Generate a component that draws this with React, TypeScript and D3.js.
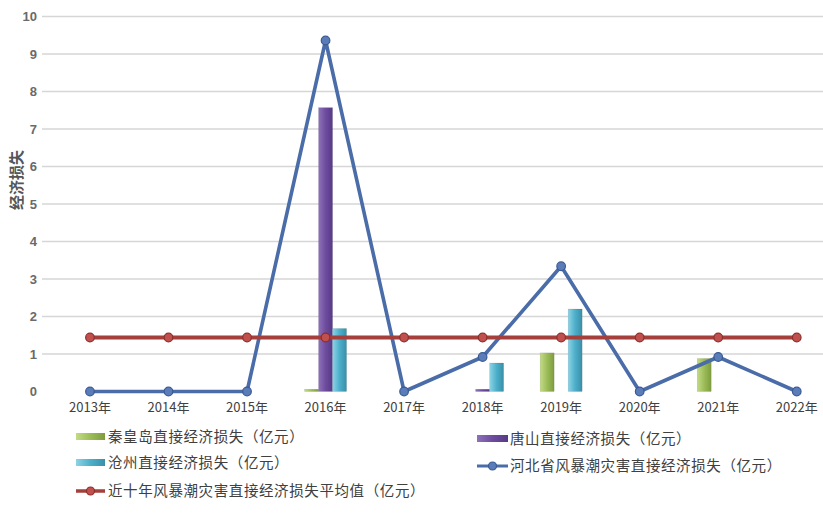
import React from "react";
import * as d3 from "d3";

const years = ["2013年", "2014年", "2015年", "2016年", "2017年", "2018年", "2019年", "2020年", "2021年", "2022年"];
const qinhuangdao = [0, 0, 0, 0.06, 0, 0, 1.03, 0, 0.88, 0];
const tangshan = [0, 0, 0, 7.57, 0, 0.06, 0, 0, 0, 0];
const cangzhou = [0, 0, 0, 1.68, 0, 0.76, 2.2, 0, 0, 0];
const hebei = [0, 0, 0, 9.36, 0, 0.92, 3.34, 0, 0.92, 0];
const average = [1.44, 1.44, 1.44, 1.44, 1.44, 1.44, 1.44, 1.44, 1.44, 1.44];
const yTicks = [0, 1, 2, 3, 4, 5, 6, 7, 8, 9, 10];

const barSeries = [
  { name: "秦皇岛直接经济损失（亿元）", values: qinhuangdao, grad: "gGreen" },
  { name: "唐山直接经济损失（亿元）", values: tangshan, grad: "gPurple" },
  { name: "沧州直接经济损失（亿元）", values: cangzhou, grad: "gCyan" },
];
const lineNames = ["河北省风暴潮灾害直接经济损失（亿元）", "近十年风暴潮灾害直接经济损失平均值（亿元）"];

const BLUE = "#4a6ca8";
const RED = "#a53f3b";
const CJK = "'Noto Sans CJK SC', 'Noto Sans', sans-serif";
const NUM = "'Liberation Sans', Arial, sans-serif";

export default function App() {
  const x = d3.scaleBand<string>().domain(years).range([50.7, 836]);
  const y = d3.scaleLinear().domain([0, 10]).range([391.5, 16.5]);
  const bw = 14;
  const cx = (i: number) => (x(years[i]) as number) + x.bandwidth() / 2;
  const line = d3.line<number>().x((_, i) => cx(i)).y((d) => y(d));

  return (
    <svg width={823} height={513} style={{ position: "absolute", left: 0, top: 0, background: "#fff" }}>
      <defs>
        <linearGradient id="gGreen" x1="0" x2="1" y1="0" y2="0">
          <stop offset="0" stopColor="#c3db86" />
          <stop offset="0.5" stopColor="#9cbc58" />
          <stop offset="1" stopColor="#7e9c3e" />
        </linearGradient>
        <linearGradient id="gPurple" x1="0" x2="1" y1="0" y2="0">
          <stop offset="0" stopColor="#8e72b8" />
          <stop offset="0.5" stopColor="#6d4c9e" />
          <stop offset="1" stopColor="#573a86" />
        </linearGradient>
        <linearGradient id="gCyan" x1="0" x2="1" y1="0" y2="0">
          <stop offset="0" stopColor="#8dd3e6" />
          <stop offset="0.5" stopColor="#4cafca" />
          <stop offset="1" stopColor="#3a8fa8" />
        </linearGradient>
      </defs>

      {yTicks.map((t) => (
        <g key={t}>
          {t > 0 && <line x1={42} x2={823} y1={y(t)} y2={y(t)} stroke="#d6d6d6" strokeWidth={1.5} />}
          <text x={37} y={y(t)} dy="0.35em" textAnchor="end" fontFamily={NUM} fontSize={13} fontWeight="bold" fill="#6a6a6a">{t}</text>
        </g>
      ))}

      <text transform={`translate(22,180) rotate(-90)`} textAnchor="middle" fontFamily={CJK} fontSize={15} fontWeight="bold" fill="#555">经济损失</text>

      {years.map((yr, i) => (
        <text key={yr} x={cx(i)} y={412} textAnchor="middle" fontFamily={CJK} fontSize={13} fill="#404040">{yr}</text>
      ))}

      {barSeries.map((s, si) =>
        s.values.map((v, i) =>
          v > 0 ? (
            <rect key={`${si}-${i}`} x={cx(i) - 1.5 * bw + si * bw} y={y(v)} width={bw} height={y(0) - y(v)} fill={`url(#${s.grad})`} stroke="rgba(0,0,0,0.15)" strokeWidth={0.5} />
          ) : null
        )
      )}

      <path d={line(hebei) || ""} fill="none" stroke={BLUE} strokeWidth={3.6} strokeLinejoin="round" />
      {hebei.map((v, i) => (
        <circle key={`h${i}`} cx={cx(i)} cy={y(v)} r={4.3} fill="#5a7cb8" stroke="#3a5a94" strokeWidth={1.2} />
      ))}

      <path d={line(average) || ""} fill="none" stroke={RED} strokeWidth={4} />
      {average.map((v, i) => (
        <circle key={`a${i}`} cx={cx(i)} cy={y(v)} r={4.3} fill="#c0504d" stroke="#8e2f2c" strokeWidth={1.2} />
      ))}

      {/* legend */}
      <g fontFamily={CJK} fontSize={14.5} fill="#404040">
        <rect x={76} y={433} width={29} height={7} fill="url(#gGreen)" />
        <text x={108} y={437} dy="0.35em" letterSpacing={0.6}>{barSeries[0].name}</text>
        <rect x={477} y={435} width={31} height={7} fill="url(#gPurple)" />
        <text x={510} y={439} dy="0.35em" letterSpacing={0.6}>{barSeries[1].name}</text>
        <rect x={76} y={459} width={29} height={7} fill="url(#gCyan)" />
        <text x={108} y={463} dy="0.35em" letterSpacing={0.6}>{barSeries[2].name}</text>
        <line x1={477} x2={508} y1={466} y2={466} stroke={BLUE} strokeWidth={3} />
        <circle cx={492.5} cy={466} r={4} fill="#5a7cb8" stroke="#3a5a94" strokeWidth={1.2} />
        <text x={510} y={466} dy="0.35em" letterSpacing={0.6}>{lineNames[0]}</text>
        <line x1={76} x2={105} y1={491} y2={491} stroke={RED} strokeWidth={3.5} />
        <circle cx={90.5} cy={491} r={4} fill="#c0504d" stroke="#8e2f2c" strokeWidth={1.2} />
        <text x={108} y={491} dy="0.35em" letterSpacing={0.6}>{lineNames[1]}</text>
      </g>
    </svg>
  );
}
